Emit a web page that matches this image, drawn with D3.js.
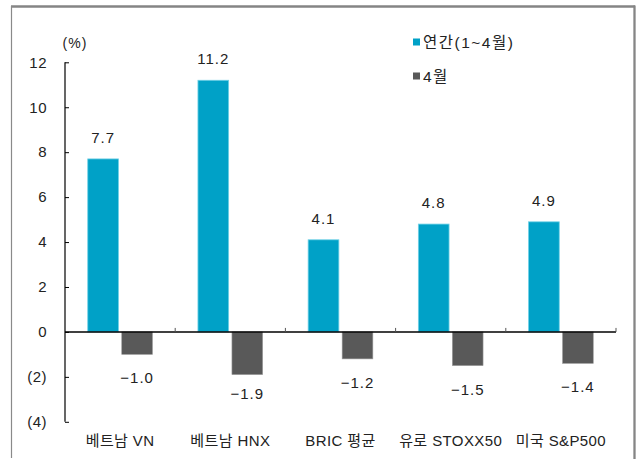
<!DOCTYPE html>
<html><head><meta charset="utf-8">
<script src="https://cdn.jsdelivr.net/npm/d3@7"></script>
<style>
html,body{margin:0;padding:0;background:#fff;}
text{font-family:"Liberation Sans","Noto Sans CJK KR",sans-serif;fill:#222;}
</style></head>
<body>
<svg id="c" width="637" height="459"></svg>
<script>
const categories = ["베트남 VN","베트남 HNX","BRIC 평균","유로 STOXX50","미국 S&P500"];
const seriesNames = ["연간(1~4월)","4월"];
const ytdValues = [7.7, 11.2, 4.1, 4.8, 4.9];
const aprilValues = [-1.0, -1.9, -1.2, -1.5, -1.4];
const yTicks = [-4,-2,0,2,4,6,8,10,12];
const colors = ["#00A1C7","#595959"];

const svg = d3.select("#c");
// outer frame
svg.append("line").attr("x1",11).attr("x2",635).attr("y1",6.5).attr("y2",6.5).attr("stroke","#858585").attr("stroke-width",2.3);
svg.append("line").attr("x1",634.5).attr("x2",634.5).attr("y1",5.5).attr("y2",459).attr("stroke","#858585").attr("stroke-width",2.3);
svg.append("line").attr("x1",11.5).attr("x2",11.5).attr("y1",6).attr("y2",458).attr("stroke","#8a8a8a").attr("stroke-width",1.2);

const x = d3.scaleBand().domain(categories).range([65,616]).paddingInner(0).paddingOuter(0);
const y = d3.scaleLinear().domain([-4,12]).range([421.8,62.3]);
const fmtTick = v => v < 0 ? "(" + Math.abs(v) + ")" : String(v);
const fmtVal = v => (v < 0 ? "\u2212" : "") + Math.abs(v).toFixed(1);

// y axis
const yAxis = d3.axisLeft(y).tickValues(yTicks).tickSize(-4).tickPadding(18).tickFormat(fmtTick);
const gy = svg.append("g").attr("transform","translate(65,0)").call(yAxis);
gy.selectAll(".tick line").attr("stroke","#000").attr("x2",4);
gy.selectAll(".tick text").attr("font-size",15).style("letter-spacing","0.5px").attr("fill","#222")
  .attr("font-family","'Liberation Sans',sans-serif");
gy.select(".domain").attr("stroke","#000").attr("stroke-width",1.2).attr("d","M0,"+y(12)+"V"+y(-4));

// bars
const bw = 30.7, gap = 3.3;
const g = svg.append("g");
categories.forEach((c,i)=>{
  const x0 = x(c) + x.bandwidth()/2;
  const v1 = ytdValues[i], v2 = aprilValues[i];
  g.append("rect").attr("x",x0 - gap/2 - bw).attr("width",bw)
    .attr("y",y(Math.max(0,v1))).attr("height",Math.abs(y(v1)-y(0)))
    .attr("fill",colors[0]).attr("stroke","#6FD0E6").attr("stroke-width",0.8);
  g.append("rect").attr("x",x0 + gap/2).attr("width",bw)
    .attr("y",y(Math.max(0,v2))).attr("height",Math.abs(y(v2)-y(0)))
    .attr("fill",colors[1]).attr("stroke","#9a9a9a").attr("stroke-width",0.6);
  g.append("text").attr("x",x0 - gap/2 - bw/2).attr("y",y(v1)-16)
    .attr("text-anchor","middle").attr("font-size",15).style("letter-spacing","1px").text(fmtVal(v1));
  const off = v2 < -1.8 ? 24 : 29;
  g.append("text").attr("x",x0 + gap/2 + bw/2).attr("y",y(v2)+off)
    .attr("text-anchor","middle").attr("font-size",15).style("letter-spacing","1px").text(fmtVal(v2));
});

// x axis
const xAxisG = svg.append("g");
xAxisG.append("line").attr("x1",65).attr("x2",616).attr("y1",y(0)).attr("y2",y(0)).attr("stroke","#000").attr("stroke-width",1.4);
categories.forEach(c=>{
  const xe = x(c)+x.bandwidth();
  xAxisG.append("line").attr("x1",xe).attr("x2",xe).attr("y1",y(0)).attr("y2",y(0)-4).attr("stroke","#555").attr("stroke-width",1);
});
categories.forEach(c=>{
  svg.append("text").attr("x",x(c)+x.bandwidth()/2).attr("y",446).attr("text-anchor","middle")
    .attr("font-size",15).style("letter-spacing","0.4px").text(c);
});

// unit
svg.append("text").attr("x",75).attr("y",48).attr("text-anchor","middle").attr("font-size",14).style("letter-spacing","1px").text("(%)");

// legend
const ly = [42, 76];
seriesNames.forEach((n,i)=>{
  svg.append("rect").attr("x",413).attr("y",ly[i]-3.5).attr("width",7).attr("height",7).attr("fill",colors[i]);
  svg.append("text").attr("x",423).attr("y",ly[i]+5.5).attr("font-size",15.5).style("letter-spacing","1.5px").text(n);
});
</script>
</body></html>
